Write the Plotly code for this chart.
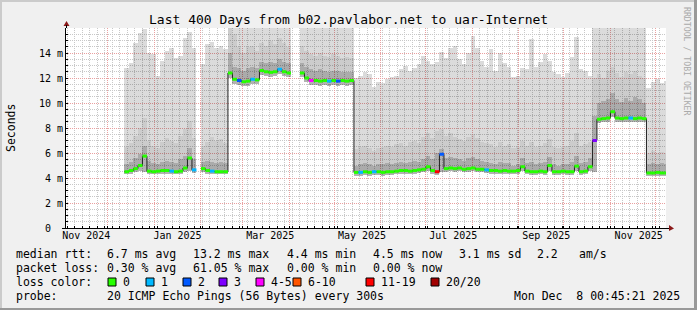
import plotly.graph_objects as go
import pandas as pd

# ---------------- data (3-day buckets, ms) ----------------
bucket_start = "2024-12-12"
bucket_days = 3

median_ms = [
    4.5, 4.6, 4.75, 5.0, 5.75, 4.55, 4.5, 4.55, 4.6, 4.6,
    4.55, 4.5, 4.55, 4.8, 5.6, 4.65, None, 4.75, 4.6, 4.55,
    4.5, 4.5, 4.5, 12.4, 11.9, 11.8, 11.7, 11.75, 11.9, 11.85,
    12.6, 12.5, 12.45, 12.5, 12.7, 12.5, 12.4, None, None, 12.4,
    12.0, 11.8, 11.8, 11.75, 11.8, 11.75, 11.8, 11.75, 11.8, 11.75,
    11.8, 4.45, 4.45, 4.5, 4.45, 4.5, 4.5, 4.45, 4.5, 4.5,
    4.55, 4.6, 4.6, 4.55, 4.6, 4.65, 4.7, 4.9, 4.6, 4.5,
    5.9, 4.75, 4.8, 4.75, 4.8, 4.7, 4.75, 4.8, 4.7, 4.7,
    4.65, 4.6, 4.6, 4.55, 4.6, 4.55, 4.55, 4.6, 4.9, 4.55,
    4.5, 4.5, 4.55, 4.5, 5.0, 4.5, 4.5, 4.55, 4.5, 4.5,
    4.95, 4.5, 4.55, 4.9, 7.0, 8.7, 8.75, 8.8, 9.3, 8.8,
    8.75, 8.8, 8.8, 8.75, 8.8, 8.75, 4.4, 4.4, 4.45, 4.4,
    4.4,
]

min_ms = [
    4.3, 4.35, 4.45, 4.6, 4.5, 4.3, 4.3, 4.3, 4.35, 4.35,
    4.3, 4.3, 4.3, 4.5, 4.55, 4.4, None, 4.5, 4.35, 4.3,
    4.3, 4.3, 4.3, 12.0, 11.55, 11.45, 11.35, 11.4, 11.5, 11.5,
    12.25, 12.15, 12.1, 12.15, 12.3, 12.15, 12.05, None, None, 12.05,
    11.65, 11.45, 11.45, 11.4, 11.45, 11.4, 11.45, 11.4, 11.45, 11.4,
    11.45, 4.2, 4.2, 4.25, 4.2, 4.25, 4.25, 4.2, 4.25, 4.25,
    4.3, 4.35, 4.35, 4.3, 4.35, 4.4, 4.45, 4.55, 4.35, 4.25,
    4.5, 4.5, 4.55, 4.5, 4.55, 4.45, 4.5, 4.55, 4.45, 4.45,
    4.4, 4.35, 4.35, 4.3, 4.35, 4.3, 4.3, 4.35, 4.55, 4.3,
    4.25, 4.25, 4.3, 4.25, 4.6, 4.25, 4.25, 4.3, 4.25, 4.25,
    4.6, 4.25, 4.3, 4.6, 4.5, 8.4, 8.45, 8.5, 8.9, 8.5,
    8.45, 8.5, 8.5, 8.45, 8.5, 8.45, 4.15, 4.15, 4.2, 4.15,
    4.15,
]

inner_smoke_ms = [
    5.1, 5.3, 5.6, 5.9, 6.6, 5.4, 5.2, 5.1, 5.3, 5.4,
    5.3, 5.2, 5.5, 5.8, 6.4, 5.5, None, 5.3, 5.4, 5.3,
    5.2, 5.3, 5.2, 14.0, 12.9, 12.8, 12.6, 12.8, 12.9, 12.8,
    13.3, 13.2, 13.3, 13.2, 13.5, 13.3, 13.2, None, None, 13.2,
    12.9, 12.7, 12.6, 12.7, 12.6, 12.5, 12.6, 12.6, 12.5, 12.5,
    12.5, 5.0, 5.1, 5.2, 5.1, 5.0, 5.1, 5.1, 5.2, 5.1,
    5.2, 5.3, 5.2, 5.3, 5.4, 5.3, 5.5, 5.8, 5.5, 6.0,
    6.3, 5.6, 5.7, 5.6, 5.5, 5.4, 5.6, 5.7, 5.5, 5.4,
    5.3, 5.2, 5.1, 5.3, 5.2, 5.2, 5.0, 5.1, 5.6, 5.2,
    5.3, 5.1, 5.2, 5.3, 5.7, 5.1, 5.0, 5.1, 5.1, 5.3,
    5.8, 5.2, 5.3, 5.6, 9.0, 10.0, 10.2, 10.3, 10.8, 10.3,
    10.1, 10.4, 10.2, 10.5, 10.3, 10.0, 5.1, 5.2, 5.1, 5.2,
    5.1,
]

outer_smoke_ms = [
    6.5, 6.8, 7.4, 8.0, 8.8, 7.0, 6.6, 6.4, 6.9, 7.2,
    7.0, 6.8, 7.4, 7.9, 8.6, 7.2, None, 6.6, 6.9, 7.3,
    7.0, 7.1, 6.8, 16.5, 15.5, 14.5, 14.0, 14.5, 14.6, 14.2,
    14.8, 14.6, 15.0, 14.7, 15.2, 14.8, 14.5, None, None, 14.6,
    14.2, 13.9, 13.8, 14.0, 13.8, 13.7, 13.9, 13.8, 13.6, 13.7,
    13.6, 6.3, 6.5, 6.6, 6.4, 6.2, 6.4, 6.5, 6.6, 6.5,
    6.7, 6.8, 6.6, 6.9, 7.0, 6.8, 7.3, 7.6, 7.2, 7.8,
    7.9, 7.4, 7.6, 7.3, 7.1, 7.0, 7.3, 7.5, 7.2, 6.9,
    6.8, 6.7, 6.5, 6.9, 6.6, 6.7, 6.4, 6.5, 7.0, 6.6,
    6.9, 6.5, 6.6, 6.8, 7.1, 6.5, 6.4, 6.5, 6.6, 7.0,
    7.6, 6.6, 6.7, 6.9, 12.0, 12.3, 12.0, 12.6, 12.9, 12.4,
    12.1, 12.5, 12.3, 12.6, 12.2, 12.0, 6.0, 6.2, 6.0, 6.1,
    6.0,
]

max_ms = [
    12.8, 13.2, 14.8, 15.6, 15.9, 14.0, 13.9, 12.2, 13.4, 14.2,
    14.4, 13.6, 13.8, 15.2, 15.7, 14.4, None, 13.1, 14.7, 14.9,
    14.4, 14.6, 14.3, 16.5, 16.5, 16.5, 16.5, 16.5, 16.5, 16.5,
    16.5, 16.5, 16.5, 16.5, 16.5, 16.5, 16.5, None, None, 16.5,
    16.5, 16.5, 16.5, 16.5, 16.5, 16.5, 16.5, 16.5, 16.5, 16.5,
    16.5, 12.0, 12.2, 12.5, 12.3, 11.3, 11.7, 11.6, 11.9, 12.1,
    12.2, 12.7, 13.0, 12.6, 12.8, 13.1, 13.8, 13.4, 13.1, 13.3,
    14.1, 13.6, 14.4, 14.6, 13.5, 13.1, 14.0, 15.4, 14.4, 13.4,
    12.9, 14.3, 12.6, 14.0, 13.2, 12.9, 12.1, 12.2, 12.8, 12.7,
    15.1, 12.9, 13.3, 13.9, 13.4, 12.5, 12.3, 12.1, 12.4, 13.7,
    15.3, 12.7, 12.6, 12.2, 16.5, 16.5, 16.5, 16.5, 16.5, 16.5,
    16.5, 16.5, 16.5, 16.5, 16.5, 16.5, 11.2, 11.7, 11.9, 11.6,
    11.8,
]

lost_pings = [
    0, 0, 0, 0, 0, 0, 0, 0, 0, 0,
    1, 0, 0, 0, 0, 1, 0, 0, 0, 1,
    0, 0, 0, 0, 0, 2, 0, 0, 1, 0,
    0, 0, 0, 0, 1, 0, 0, 0, 0, 0,
    0, 4, 0, 0, 0, 1, 0, 2, 0, 0,
    0, 0, 1, 0, 0, 1, 0, 0, 0, 0,
    0, 0, 0, 0, 0, 0, 0, 0, 0, 12,
    2, 0, 0, 0, 0, 0, 0, 0, 0, 0,
    1, 0, 0, 0, 0, 0, 0, 0, 0, 0,
    0, 0, 0, 0, 0, 0, 0, 0, 0, 0,
    0, 0, 0, 0, 3, 0, 0, 0, 0, 0,
    0, 0, 1, 0, 0, 0, 0, 0, 0, 0,
    0,
]

loss_labels = ["0", "1", "2", "3", "4-5", "6-10", "11-19", "20/20"]
loss_upper = [0, 1, 2, 3, 5, 10, 19, 20]
loss_colors = ["#26ff00", "#00b8ff", "#0059ff", "#7e00ff",
               "#ff00ff", "#ff5500", "#ff0000", "#a00000"]

month_starts = ["2024-12-01", "2025-01-01", "2025-02-01", "2025-03-01",
                "2025-04-01", "2025-05-01", "2025-06-01", "2025-07-01",
                "2025-08-01", "2025-09-01", "2025-10-01", "2025-11-01",
                "2025-12-01"]
label_dates = ["2024-11-16 13:30", "2025-01-16 08:45", "2025-03-19 05:30",
               "2025-05-19 08:45", "2025-07-19 05:30", "2025-09-19 05:30",
               "2025-11-19 20:00"]
label_text = ["Nov 2024", "Jan 2025", "Mar 2025", "May 2025",
              "Jul 2025", "Sep 2025", "Nov 2025"]
y_ticks = [0, 2, 4, 6, 8, 10, 12, 14]
y_text = ["0\u00a0\u00a0", "2 m", "4 m", "6 m", "8 m", "10 m", "12 m", "14 m"]

range_start = "2024-11-03 00:45:21"
range_end = "2025-12-08 00:45:21"

title_text = "Last 400 Days from b02.pavlabor.net to uar-Internet"
stats_rtt = [("median rtt:", 16), ("6.7 ms avg", 107), ("13.2 ms max", 193),
             ("4.4 ms min", 287), ("4.5 ms now", 373), ("3.1 ms sd", 459),
             ("2.2", 537), ("am/s", 579)]
stats_loss = [("packet loss:", 16), ("0.30 % avg", 107), ("61.05 % max", 193),
              ("0.00 % min", 287), ("0.00 % now", 373)]
probe_line = [("probe:", 16), ("20 ICMP Echo Pings (56 Bytes) every 300s", 107),
              ("Mon Dec  8 00:45:21 2025", 514)]
swatch_x = [108, 146, 183, 219, 256, 293, 366, 431]

# ---------------- geometry helpers (pixels -> paper) ----------------
W, H = 697, 310
L, R, T, B = 66, 31, 28, 82
PW, PH = W - L - R, H - T - B


def px(x):
    return (x - L) / PW


def py(y):
    return (H - B - y) / PH


MONO = "DejaVu Sans Mono"
dates = pd.date_range(bucket_start, periods=len(median_ms), freq=f"{bucket_days}D")
step_ms = bucket_days * 86400000

fig = go.Figure()


def band(lower, upper, color, name):
    xs, base, h = [], [], []
    for d, a, b in zip(dates, lower, upper):
        if a is None or b is None:
            continue
        xs.append(d)
        base.append(a)
        h.append(b - a)
    fig.add_trace(go.Bar(x=xs, y=h, base=base, width=step_ms, offset=0,
                         marker=dict(color=color, line=dict(width=0)),
                         name=name, showlegend=False, hoverinfo="skip"))


band(min_ms, median_ms, "rgba(0,0,0,0.30)", "min-median")
band(median_ms, inner_smoke_ms, "rgba(0,0,0,0.33)", "inner smoke")
band(inner_smoke_ms, outer_smoke_ms, "rgba(0,0,0,0.20)", "outer smoke")
band(outer_smoke_ms, max_ms, "rgba(0,0,0,0.14)", "max smoke")

# black median step line (on overlay axis so it sits above the bars)
fig.add_trace(go.Scatter(x=dates, y=median_ms, mode="lines", line_shape="hv",
                         line=dict(color="#202020", width=1), connectgaps=False,
                         xaxis="x2", showlegend=False, hoverinfo="skip"))


def loss_bucket(n):
    for k, up in enumerate(loss_upper):
        if n <= up:
            return k
    return len(loss_upper) - 1


seg_x = {k: [] for k in range(len(loss_colors))}
seg_y = {k: [] for k in range(len(loss_colors))}
for d, m, n in zip(dates, median_ms, lost_pings):
    if m is None:
        continue
    k = loss_bucket(n)
    seg_x[k] += [d, d + pd.Timedelta(days=bucket_days), None]
    seg_y[k] += [m, m, None]
for k in range(len(loss_colors)):
    if seg_x[k]:
        fig.add_trace(go.Scatter(x=seg_x[k], y=seg_y[k], mode="lines",
                                 line=dict(color=loss_colors[k], width=3),
                                 xaxis="x2", showlegend=False, hoverinfo="skip"))

GRID = "#c8c8c8"
MGRID = "#eaa0a0"

fig.update_layout(
    width=W, height=H,
    margin=dict(l=L, r=R, t=T, b=B, pad=0),
    paper_bgcolor="#f0f0f0", plot_bgcolor="#ffffff",
    barmode="overlay", bargap=0,
    showlegend=False,
    xaxis=dict(type="date", range=[range_start, range_end],
               tickmode="array", tickvals=month_starts, showticklabels=False,
               showgrid=True, gridcolor=MGRID, griddash="1px,1px", gridwidth=1,
               ticks="inside", ticklen=2, tickcolor="#000000",
               showline=True, linecolor="#000000", linewidth=1,
               zeroline=False, fixedrange=True,
               minor=dict(tickmode="linear", tick0="2024-11-04", dtick=5 * 86400000,
                          showgrid=True, gridcolor=GRID, griddash="1px,1px",
                          ticks="inside", ticklen=2, tickcolor="#000000")),
    xaxis2=dict(type="date", range=[range_start, range_end], overlaying="x",
                anchor="y", side="bottom", tickmode="array", tickvals=label_dates,
                ticktext=label_text, showgrid=False, ticks="", showline=False,
                zeroline=False, tickfont=dict(family=MONO, size=10, color="#000000")),
    yaxis=dict(range=[0, 16], tickmode="array", tickvals=y_ticks, ticktext=y_text,
               showgrid=True, gridcolor=MGRID, griddash="1px,1px",
               ticks="inside", ticklen=2, tickcolor="#000000",
               showline=True, linecolor="#000000", linewidth=1, zeroline=False,
               tickfont=dict(family=MONO, size=10, color="#000000"),
               minor=dict(tickmode="linear", tick0=0, dtick=0.5, showgrid=True,
                          gridcolor=GRID, griddash="1px,1px",
                          ticks="inside", ticklen=2, tickcolor="#000000")),
)

ann = []
ann.append(dict(text=title_text, x=px(348.5), y=py(19), xref="paper", yref="paper",
                showarrow=False, xanchor="center", yanchor="middle",
                font=dict(family=MONO, size=13, color="#000000")))
ann.append(dict(text="Seconds", x=px(11), y=py(128), xref="paper", yref="paper",
                showarrow=False, textangle=-90, xanchor="center", yanchor="middle",
                font=dict(family=MONO, size=11.5, color="#000000")))
ann.append(dict(text="RRDTOOL / TOBI OETIKER", x=px(687), y=py(61), xref="paper",
                yref="paper", showarrow=False, textangle=90, xanchor="center",
                yanchor="middle", font=dict(family=MONO, size=8.2, color="#aaaaaa")))


def text_row(items, yc):
    for t, x in items:
        ann.append(dict(text=t, x=px(x - 2), y=py(yc), xref="paper", yref="paper",
                        showarrow=False, xanchor="left", yanchor="middle",
                        font=dict(family=MONO, size=11.5, color="#000000")))


text_row(stats_rtt, 254)
text_row(stats_loss, 268)
text_row([("loss color:", 16)] + [(lab, sx + 15) for lab, sx in zip(loss_labels, swatch_x)], 282)
text_row(probe_line, 296)

shapes = []
for c, sx in zip(loss_colors, swatch_x):
    shapes.append(dict(type="rect", xref="paper", yref="paper",
                       x0=px(sx), x1=px(sx + 8), y0=py(286), y1=py(278),
                       fillcolor=c, line=dict(color="#000000", width=1)))
# axis arrows
shapes.append(dict(type="path", xref="paper", yref="paper",
                   path=f"M {px(63.5)} {py(26)} L {px(69.5)} {py(26)} L {px(66.5)} {py(21)} Z",
                   fillcolor="#8b1a1a", line=dict(width=0)))
shapes.append(dict(type="path", xref="paper", yref="paper",
                   path=f"M {px(669)} {py(225)} L {px(669)} {py(231)} L {px(674)} {py(228.5)} Z",
                   fillcolor="#8b1a1a", line=dict(width=0)))
shapes.append(dict(type="line", xref="paper", yref="paper", x0=px(66.5), x1=px(66.5),
                   y0=py(25), y1=py(28), line=dict(color="#000000", width=1)))
shapes.append(dict(type="line", xref="paper", yref="paper", x0=px(62), x1=px(669),
                   y0=py(228.5), y1=py(228.5), line=dict(color="#000000", width=1)))
# 3D frame
shapes.append(dict(type="rect", xref="paper", yref="paper", x0=px(0), x1=px(2),
                   y0=py(0), y1=py(310), fillcolor="#cbcbcb", line=dict(width=0)))
shapes.append(dict(type="rect", xref="paper", yref="paper", x0=px(0), x1=px(697),
                   y0=py(0), y1=py(2), fillcolor="#cbcbcb", line=dict(width=0)))
shapes.append(dict(type="rect", xref="paper", yref="paper", x0=px(694), x1=px(697),
                   y0=py(0), y1=py(310), fillcolor="#999999", line=dict(width=0)))
shapes.append(dict(type="rect", xref="paper", yref="paper", x0=px(0), x1=px(697),
                   y0=py(308), y1=py(310), fillcolor="#999999", line=dict(width=0)))

fig.update_layout(annotations=ann, shapes=shapes)
fig.write_html("out.html")
